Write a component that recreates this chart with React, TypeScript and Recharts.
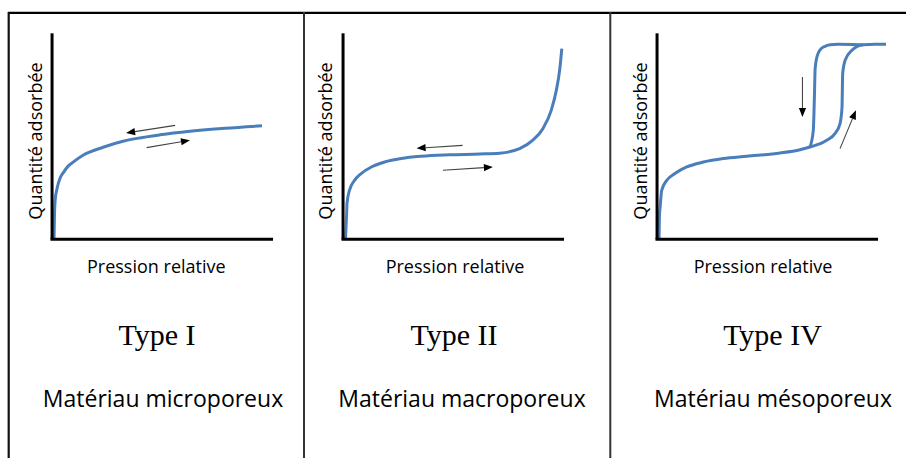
import React from 'react';
import { LineChart, Line, XAxis, YAxis, ReferenceLine } from 'recharts';

// ---- data (relative pressure 0-100 along the axis, adsorbed amount 0-100) ----
const typeIX = [0.9, 1.1, 1.4, 2.3, 3.6, 5.2, 7.2, 9.1, 14.0, 23.1, 32.1, 38.5, 48.9, 62.4, 78.3, 95.0];
const typeIY = [0, 11.7, 18.9, 24.8, 29.6, 32.5, 35.4, 37.1, 40.8, 44.7, 47.6, 49.0, 50.7, 52.4, 53.9, 55.1];

const typeIIX = [1.1, 1.6, 1.8, 2.9, 5.2, 8.2, 12.8, 18.8, 26.3, 35.4, 48.2, 61.8, 70.8, 79.9, 85.9, 90.4, 94.2, 96.5, 98.0, 99.0];
const typeIIY = [0, 11.7, 17.5, 23.8, 28.6, 31.9, 35.1, 37.5, 39.2, 40.3, 41.0, 41.4, 41.8, 44.0, 48.1, 53.7, 62.6, 72.3, 82.0, 92.6];

const typeIVAdsX = [0.9, 1.1, 1.4, 2.1, 4.4, 8.1, 13.4, 21.0, 30.0, 40.6, 55.7, 64.7, 69.2, 76.8, 80.5, 82.8, 83.7, 84.0, 85.1, 88.1, 93.3, 98.6, 103.6];
const typeIVAdsY = [0, 11.7, 15.7, 23.8, 28.6, 31.9, 35.1, 37.5, 39.2, 40.3, 41.9, 43.5, 44.8, 48.1, 51.3, 56.2, 64.2, 80.4, 86.9, 91.7, 94.4, 94.7, 94.7];

const typeIVDesX = [69.2, 70.7, 71.2, 71.5, 71.7, 72.2, 73.1, 74.2, 76.0, 78.3, 81.9, 88.0, 93.3];
const typeIVDesY = [44.8, 52.9, 69.1, 82.0, 84.5, 87.9, 90.8, 92.5, 93.7, 94.4, 94.7, 94.6, 94.4];

const typeIArrows = [
  { x1: 55.7, y1: 55.3, x2: 33.5, y2: 51.6 },
  { x1: 42.8, y1: 44.5, x2: 62.4, y2: 48.1 },
];
const typeIIArrows = [
  { x1: 54.1, y1: 45.6, x2: 33.3, y2: 44.2 },
  { x1: 45.2, y1: 33.5, x2: 67.8, y2: 35.1 },
];
const typeIVArrows = [
  { x1: 65.8, y1: 78.8, x2: 65.8, y2: 59.4 },
  { x1: 82.8, y1: 44.0, x2: 90.0, y2: 62.6 },
];

const titles = ['Type I', 'Type II', 'Type IV'];
const materials = ['Matériau microporeux', 'Matériau macroporeux', 'Matériau mésoporeux'];
const xLabel = 'Pression relative';
const yLabel = 'Quantité adsorbée';

const zip = (xs: number[], ys: number[]) => xs.map((x, i) => ({ x, y: ys[i] }));

const CURVE = '#4A7EBB';
const SANS = '"Open Sans", "Noto Sans", sans-serif';
const SERIF = '"Liberation Serif", "Times New Roman", serif';

const ArrowShape = (props: any) => {
  const { x1, y1, x2, y2 } = props;
  const dx = x2 - x1;
  const dy = y2 - y1;
  const len = Math.hypot(dx, dy) || 1;
  const ux = dx / len;
  const uy = dy / len;
  const hl = 9;
  const hw = 3.6;
  const bx = x2 - ux * hl;
  const by = y2 - uy * hl;
  const px = -uy * hw;
  const py = ux * hw;
  return (
    <g>
      <line x1={x1} y1={y1} x2={bx} y2={by} stroke="#444" strokeWidth={1.1} />
      <polygon points={`${x2},${y2} ${bx + px},${by + py} ${bx - px},${by - py}`} fill="#000" />
    </g>
  );
};

const SX = 2.21;
const SY = 2.06;
const X_DOMAIN: [number, number] = [-5, 110];
const Y_DOMAIN: [number, number] = [-5, 105];
const CH_W = (X_DOMAIN[1] - X_DOMAIN[0]) * SX;
const CH_H = (Y_DOMAIN[1] - Y_DOMAIN[0]) * SY;
const AXIS_TOP = 33;

type Series = { x: number; y: number }[];

const Panel = ({ axisX, series, arrows }: { axisX: number; series: Series[]; arrows: typeof typeIArrows }) => (
  <div
    style={{
      position: 'absolute',
      left: axisX + X_DOMAIN[0] * SX,
      top: AXIS_TOP - (Y_DOMAIN[1] - 100) * SY,
      width: CH_W,
      height: CH_H,
    }}
  >
    <LineChart width={CH_W} height={CH_H} margin={{ top: 0, right: 0, bottom: 0, left: 0 }}>
      <XAxis type="number" dataKey="x" domain={X_DOMAIN} hide />
      <YAxis type="number" dataKey="y" domain={Y_DOMAIN} hide />
      {series.map((s, i) => (
        <Line
          key={i}
          data={s}
          dataKey="y"
          type="monotone"
          stroke={CURVE}
          strokeWidth={3}
          dot={false}
          activeDot={false}
          isAnimationActive={false}
        />
      ))}
      <ReferenceLine segment={[{ x: -0.7, y: 0 }, { x: 100, y: 0 }]} stroke="#000" strokeWidth={3} ifOverflow="visible" />
      <ReferenceLine segment={[{ x: 0, y: 0 }, { x: 0, y: 100 }]} stroke="#000" strokeWidth={3} ifOverflow="visible" />
      {arrows.map((a, i) => (
        <ReferenceLine
          key={'a' + i}
          segment={[{ x: a.x1, y: a.y1 }, { x: a.x2, y: a.y2 }]}
          shape={ArrowShape}
          ifOverflow="visible"
        />
      ))}
    </LineChart>
  </div>
);

const panelAxisX = [52, 343.5, 657];
const xLabelCx = [156.3, 455, 763];
const titleCx = [157, 454, 772.5];
const materialCx = [163, 462, 773];
const yLabelBaseX = [41.5, 331.5, 646.5];

export default function App() {
  return (
    <div style={{ position: 'absolute', left: 0, top: 0, width: 906, height: 458, background: '#fff', overflow: 'hidden' }}>
      <svg width={906} height={458} style={{ position: 'absolute', left: 0, top: 0 }}>
        <line x1={8} y1={12.8} x2={906} y2={12.8} stroke="#000" strokeWidth={2.2} />
        <line x1={8.7} y1={12} x2={8.7} y2={458} stroke="#111" strokeWidth={2.2} />
        <line x1={304} y1={12} x2={304} y2={458} stroke="#333" strokeWidth={2} />
        <line x1={610.3} y1={12} x2={610.3} y2={458} stroke="#333" strokeWidth={2} />
        {titles.map((t, i) => (
          <g key={t}>
            <text
              x={yLabelBaseX[i]}
              y={141}
              transform={`rotate(-90 ${yLabelBaseX[i]} 141)`}
              textAnchor="middle"
              fontFamily={SANS}
              fontSize={18}
              fill="#000"
            >
              {yLabel}
            </text>
            <text x={xLabelCx[i]} y={273} textAnchor="middle" fontFamily={SANS} fontSize={18} fill="#000">
              {xLabel}
            </text>
            <text x={titleCx[i]} y={345} textAnchor="middle" fontFamily={SERIF} fontSize={30} fill="#000">
              {t}
            </text>
            <text x={materialCx[i]} y={406.7} textAnchor="middle" fontFamily={SANS} fontSize={23} fill="#000">
              {materials[i]}
            </text>
          </g>
        ))}
      </svg>
      <Panel axisX={panelAxisX[0]} series={[zip(typeIX, typeIY)]} arrows={typeIArrows} />
      <Panel axisX={panelAxisX[1]} series={[zip(typeIIX, typeIIY)]} arrows={typeIIArrows} />
      <Panel
        axisX={panelAxisX[2]}
        series={[zip(typeIVAdsX, typeIVAdsY), zip(typeIVDesX, typeIVDesY)]}
        arrows={typeIVArrows}
      />
    </div>
  );
}
